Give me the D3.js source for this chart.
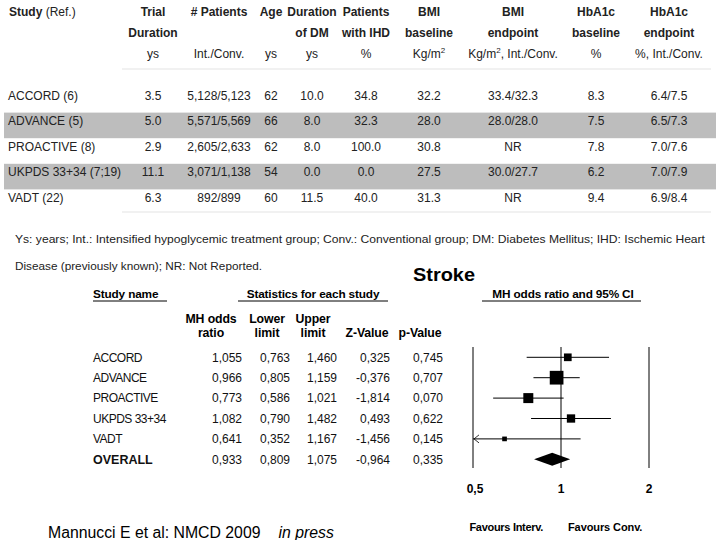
<!DOCTYPE html>
<html>
<head>
<meta charset="utf-8">
<script src="https://cdn.jsdelivr.net/npm/d3@7"></script>
<style>
  html, body { margin: 0; padding: 0; background: #fff; }
  svg { display: block; font-family: "Liberation Sans", Arial, sans-serif; }
</style>
</head>
<body>
<svg id="chart" width="720" height="540"></svg>
<script>
// ---------- Top table data ----------
const topStudies = ["ACCORD (6)", "ADVANCE (5)", "PROACTIVE (8)", "UKPDS 33+34 (7;19)", "VADT (22)"];
const trialDuration = ["3.5", "5.0", "2.9", "11.1", "6.3"];
const patients = ["5,128/5,123", "5,571/5,569", "2,605/2,633", "3,071/1,138", "892/899"];
const age = ["62", "66", "62", "54", "60"];
const durationDM = ["10.0", "8.0", "8.0", "0.0", "11.5"];
const ihd = ["34.8", "32.3", "100.0", "0.0", "40.0"];
const bmiBaseline = ["32.2", "28.0", "30.8", "27.5", "31.3"];
const bmiEndpoint = ["33.4/32.3", "28.0/28.0", "NR", "30.0/27.7", "NR"];
const hba1cBaseline = ["8.3", "7.5", "7.8", "6.2", "9.4"];
const hba1cEndpoint = ["6.4/7.5", "6.5/7.3", "7.0/7.6", "7.0/7.9", "6.9/8.4"];
const shadedRows = [false, true, false, true, false];

const topHeaders = [
  ["Trial", "Duration", "ys"],
  ["# Patients", "", "Int./Conv."],
  ["Age", "", "ys"],
  ["Duration", "of DM", "ys"],
  ["Patients", "with IHD", "%"],
  ["BMI", "baseline", "Kg/m²"],
  ["BMI", "endpoint", "Kg/m², Int./Conv."],
  ["HbA1c", "baseline", "%"],
  ["HbA1c", "endpoint", "%, Int./Conv."]
];

const footnote1 = "Ys: years; Int.: Intensified hypoglycemic treatment group; Conv.: Conventional group; DM: Diabetes Mellitus; IHD: Ischemic Heart";
const footnote2 = "Disease (previously known); NR: Not Reported.";

// ---------- Forest plot data ----------
const plotTitle = "Stroke";
const forestStudies = ["ACCORD", "ADVANCE", "PROACTIVE", "UKPDS 33+34", "VADT"];
const oddsRatio = [1.055, 0.966, 0.773, 1.082, 0.641];
const lowerLimit = [0.763, 0.805, 0.586, 0.790, 0.352];
const upperLimit = [1.460, 1.159, 1.021, 1.482, 1.167];
const zValue = [0.325, -0.376, -1.814, 0.493, -1.456];
const pValue = [0.745, 0.707, 0.070, 0.622, 0.145];
const studyWeight = [13.5, 42.9, 22.8, 15.8, 5.0];
const overallLabel = "OVERALL";
const overall = { or: 0.933, lo: 0.809, hi: 1.075, z: -0.964, p: 0.335 };
const axisTicks = [0.5, 1, 2];
const axisTickLabels = ["0,5", "1", "2"];
const favoursLabels = ["Favours Interv.", "Favours Conv."];
const citation = "Mannucci E et al: NMCD 2009";
const citationItalic = "in press";

// ---------- Drawing ----------
const svg = d3.select("#chart");
const comma = v => d3.format(".3f")(v).replace(".", ",").replace("−", "-");

// Top table
const colCenters = [153, 219, 271, 312, 366, 429, 513, 596, 669];
const rowScale = d3.scaleBand().domain(d3.range(topStudies.length)).range([87, 215]).padding(0);

const topG = svg.append("g").attr("font-size", 12).attr("fill", "#222");

// shaded bands
topG.selectAll("rect.band")
  .data(d3.range(topStudies.length).filter(i => shadedRows[i]))
  .join("rect")
  .attr("x", 4).attr("width", 712)
  .attr("y", i => rowScale(i)).attr("height", rowScale.bandwidth())
  .attr("fill", "#bdbdbd");

// header
const h0 = topG.append("text").attr("x", 9).attr("y", 16);
h0.append("tspan").attr("font-weight", "bold").text("Study ");
h0.append("tspan").text("(Ref.)");
const headerY = [16, 37, 58];
topHeaders.forEach((h, ci) => {
  h.forEach((line, li) => {
    if (!line) return;
    const t = topG.append("text")
      .attr("x", colCenters[ci]).attr("y", headerY[li])
      .attr("text-anchor", "middle")
      .attr("font-weight", li < 2 ? "bold" : "normal");
    if (li === 2 && line.includes("²")) {
      const parts = line.split("²");
      t.append("tspan").text(parts[0]);
      t.append("tspan").attr("font-size", 8).attr("dy", -5).text("2");
      t.append("tspan").attr("dy", 5).text(parts[1]);
    } else {
      t.text(line);
    }
  });
});

// separator lines
[69, 212].forEach(yy => {
  topG.append("line").attr("x1", 122).attr("x2", 711).attr("y1", yy).attr("y2", yy)
    .attr("stroke", "#e3e3e3").attr("stroke-width", 1);
});

// rows
const columns = [trialDuration, patients, age, durationDM, ihd, bmiBaseline, bmiEndpoint, hba1cBaseline, hba1cEndpoint];
topStudies.forEach((s, i) => {
  const yy = rowScale(i) + 12.5;
  topG.append("text").attr("x", 8).attr("y", yy).text(s);
  columns.forEach((col, ci) => {
    topG.append("text").attr("x", colCenters[ci]).attr("y", yy)
      .attr("text-anchor", "middle").text(col[i]);
  });
});

// footnote
svg.append("text").attr("x", 15).attr("y", 243).attr("font-size", 11).attr("fill", "#222")
  .attr("textLength", 690).attr("lengthAdjust", "spacingAndGlyphs").text(footnote1);
svg.append("text").attr("x", 15).attr("y", 270).attr("font-size", 11).attr("fill", "#222")
  .attr("textLength", 247).attr("lengthAdjust", "spacingAndGlyphs").text(footnote2);

// Title
svg.append("text").attr("x", 444).attr("y", 281).attr("text-anchor", "middle")
  .attr("font-size", 19).attr("font-weight", "bold")
  .attr("textLength", 62).attr("lengthAdjust", "spacingAndGlyphs").text(plotTitle);

// Forest plot
const fg = svg.append("g").attr("fill", "#000");
const xScale = d3.scaleLog().base(2).domain([0.5, 2]).range([473, 649]);
const rowNames = [...forestStudies, overallLabel];
const yScale = d3.scalePoint().domain(rowNames).range([357.3, 459.3]);
const size = d3.scaleSqrt().domain([0, d3.max(studyWeight)]).range([0, 13.7]);

// section headers
const hdrs = [
  { t: "Study name", x: 93, anchor: "start", x1: 93, x2: 167 },
  { t: "Statistics for each study", x: 313, anchor: "middle", x1: 238, x2: 388 },
  { t: "MH odds ratio and 95% CI", x: 563, anchor: "middle", x1: 482, x2: 641 }
];
hdrs.forEach(h => {
  fg.append("text").attr("x", h.x).attr("y", 298).attr("text-anchor", h.anchor)
    .attr("font-size", 11.8).attr("font-weight", "bold").attr("letter-spacing", -0.15).text(h.t);
  fg.append("line").attr("x1", h.x1).attr("x2", h.x2).attr("y1", 301).attr("y2", 301)
    .attr("stroke", "#000").attr("stroke-width", 1);
});

// column headers
const colHdr = [
  { l: ["MH odds", "ratio"], x: 211 },
  { l: ["Lower", "limit"], x: 267 },
  { l: ["Upper", "limit"], x: 313 },
  { l: ["", "Z-Value"], x: 367 },
  { l: ["", "p-Value"], x: 420 }
];
colHdr.forEach(c => {
  c.l.forEach((line, li) => {
    if (!line) return;
    fg.append("text").attr("x", c.x).attr("y", li === 0 ? 323 : 337)
      .attr("text-anchor", "middle").attr("font-size", 12.3).attr("font-weight", "bold")
      .attr("letter-spacing", -0.1).text(line);
  });
});

// table values
const valueRight = [242, 290, 337, 390, 443];
const rows = forestStudies.map((s, i) => ({
  name: s, vals: [oddsRatio[i], lowerLimit[i], upperLimit[i], zValue[i], pValue[i]], bold: false
}));
rows.push({ name: overallLabel, vals: [overall.or, overall.lo, overall.hi, overall.z, overall.p], bold: true });
rows.forEach(r => {
  const yy = yScale(r.name) + 4.3;
  fg.append("text").attr("x", 93).attr("y", yy).attr("font-size", r.bold ? 12.5 : 12)
    .attr("font-weight", r.bold ? "bold" : "normal").attr("letter-spacing", r.bold ? 0 : -0.5)
    .attr("fill", "#111").text(r.name);
  r.vals.forEach((v, vi) => {
    fg.append("text").attr("x", valueRight[vi]).attr("y", yy).attr("text-anchor", "end")
      .attr("font-size", 12).attr("fill", "#111").text(comma(v));
  });
});

// reference lines
axisTicks.forEach(t => {
  fg.append("line").attr("x1", xScale(t)).attr("x2", xScale(t)).attr("y1", 347).attr("y2", 468)
    .attr("stroke", "#000").attr("stroke-width", 1);
});

// CI lines and squares
forestStudies.forEach((s, i) => {
  const lo = Math.max(lowerLimit[i], xScale.domain()[0]);
  const hi = Math.min(upperLimit[i], xScale.domain()[1]);
  const yy = yScale(s);
  fg.append("line").attr("x1", xScale(lo)).attr("x2", xScale(hi)).attr("y1", yy).attr("y2", yy)
    .attr("stroke", "#000").attr("stroke-width", 1);
  if (lowerLimit[i] < xScale.domain()[0]) {
    const ax = xScale(xScale.domain()[0]) + 1;
    fg.append("path").attr("d", `M${ax + 5},${yy - 4}L${ax},${yy}L${ax + 5},${yy + 4}`)
      .attr("fill", "none").attr("stroke", "#000").attr("stroke-width", 0.8);
  }
  const sz = size(studyWeight[i]);
  fg.append("rect").attr("x", xScale(oddsRatio[i]) - sz / 2).attr("y", yy - sz / 2)
    .attr("width", sz).attr("height", sz).attr("fill", "#000");
});

// overall diamond
const dy = yScale(overallLabel);
fg.append("path")
  .attr("d", `M${xScale(overall.lo)},${dy}L${xScale(overall.or)},${dy - 6.5}L${xScale(overall.hi)},${dy}L${xScale(overall.or)},${dy + 6.5}Z`)
  .attr("fill", "#000");

// axis labels
axisTicks.forEach((t, i) => {
  fg.append("text").attr("x", xScale(t) + (i === 0 ? 2 : 0)).attr("y", 493).attr("text-anchor", "middle")
    .attr("font-size", 12).attr("font-weight", "bold").text(axisTickLabels[i]);
});
fg.append("text").attr("x", 543).attr("y", 531).attr("text-anchor", "end")
  .attr("font-size", 11).attr("font-weight", "bold").attr("letter-spacing", -0.3).text(favoursLabels[0]);
fg.append("text").attr("x", 568).attr("y", 531)
  .attr("font-size", 11).attr("font-weight", "bold").attr("letter-spacing", -0.1).text(favoursLabels[1]);

// citation
const cit = svg.append("text").attr("x", 48).attr("y", 538).attr("font-size", 15.8).attr("fill", "#000");
cit.append("tspan").text(citation);
cit.append("tspan").attr("dx", 18).attr("font-style", "italic").text(citationItalic);
</script>
</body>
</html>
